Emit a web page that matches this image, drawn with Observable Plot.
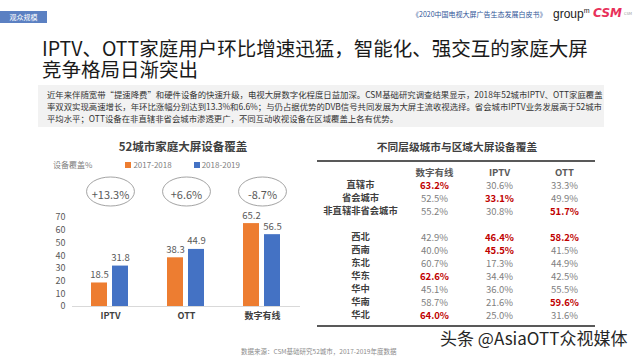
<!DOCTYPE html>
<html><head><meta charset="utf-8">
<script src="https://cdn.jsdelivr.net/npm/d3@7"></script>
<script src="https://cdn.jsdelivr.net/npm/@observablehq/plot@0.6"></script>
<style>
html,body{margin:0;padding:0;background:#fff;}
#page{position:relative;width:640px;height:360px;overflow:hidden;background:#fff;font-family:"Noto Sans CJK SC","Noto Sans",sans-serif;}
.abs{position:absolute;white-space:nowrap;}
#tag{left:0;top:11px;width:47px;height:12px;background:#5b80c2;color:#fff;font-size:7px;line-height:12px;text-align:center;}
#book{left:412px;top:10px;font-size:7px;line-height:9px;color:#2f5597;}
#groupm{left:553px;top:4px;font-size:12px;line-height:14px;color:#222;font-family:"Liberation Sans",sans-serif;}
#groupm sup{font-size:7px;color:#222;}
#csm{left:593px;top:6px;font-size:12px;line-height:14px;color:#e8305a;font-weight:bold;font-style:italic;font-family:"DejaVu Sans",sans-serif;}
#csmsub{left:624px;top:11px;font-size:4px;line-height:5px;color:#999;}
#title{left:42px;top:37px;font-size:19.5px;line-height:21px;color:#1a1a1a;}
#para{left:38px;top:85px;width:566px;height:42px;background:#f2f2f2;}
#ptext{left:47px;top:88px;font-size:8.4px;line-height:12px;color:#333;}
#btitle{left:0;width:366px;top:138px;text-align:center;font-size:11.5px;font-weight:bold;color:#404040;}
#legend{left:53px;top:159px;font-size:8px;color:#7f7f7f;}
#legend span.sw{display:inline-block;width:6px;height:6px;margin-right:2px;vertical-align:0px;}
#ttitle{left:310px;width:294px;top:139px;text-align:center;font-size:10.7px;font-weight:bold;color:#404040;}
.rule{left:317px;width:278px;height:1.5px;background:#595959;}
#source{left:241px;top:346px;font-size:6.5px;color:#8c8c8c;}
#wm{left:440px;top:325px;font-size:17px;color:#262626;}
svg{overflow:visible;}
</style>
</head><body>
<div id="page">
  <div class="abs" id="tag">观众规模</div>
  <div class="abs" id="book">《2020中国电视大屏广告生态发展白皮书》</div>
  <div class="abs" id="groupm">group<sup>m</sup></div>
  <div class="abs" id="csm">CSM</div>
  <div class="abs" id="csmsub">CSM</div>
  <div class="abs" id="title">IPTV、OTT家庭用户环比增速迅猛，智能化、强交互的家庭大屏<br>竞争格局日渐突出</div>
  <div class="abs" id="para"></div>
  <div class="abs" id="ptext">近年来伴随宽带“提速降费”和硬件设备的快速升级，电视大屏数字化程度日益加深。CSM基础研究调查结果显示，2018年52城市IPTV、OTT家庭覆盖<br>率双双实现高速增长，年环比涨幅分别达到13.3%和6.6%；与仍占据优势的DVB信号共同发展为大屏主流收视选择。省会城市IPTV业务发展高于52城市<br>平均水平；OTT设备在非直辖非省会城市渗透更广，不同互动收视设备在区域覆盖上各有优势。</div>
  <div class="abs" id="btitle">52城市家庭大屏设备覆盖</div>
  <div class="abs" id="legend"></div>
  <div class="abs" id="bars" style="left:0;top:130px"></div>
  <div class="abs" id="ttitle">不同层级城市与区域大屏设备覆盖</div>
  <div class="abs rule" style="top:160px"></div>
  <div class="abs" id="table" style="left:310px;top:160px"></div>
  <div class="abs rule" style="top:325px"></div>
  <div class="abs" id="source">数据来源：CSM基础研究52城市，2017-2019年度数据</div>
  <div class="abs" id="wm">头条 @AsiaOTT众视媒体</div>
</div>
<script>
// ---------- data ----------
const categories = ["IPTV", "OTT", "数字有线"];
const periods = ["2017-2018", "2018-2019"];
const periodColors = ["#ed7d31", "#4472c4"];
const values2017_2018 = [18.5, 38.3, 65.2];
const values2018_2019 = [31.8, 44.9, 56.5];
const growthLabels = ["+13.3%", "+6.6%", "-8.7%"];
const yTicks = [0, 10, 20, 30, 40, 50, 60, 70];
const yAxisLabel = "设备覆盖%";

const tableColumns = ["数字有线", "IPTV", "OTT"];
const tierRows = ["直辖市", "省会城市", "非直辖非省会城市"];
const regionRows = ["西北", "西南", "东北", "华东", "华中", "华南", "华北"];
const cableValues = [63.2, 52.5, 55.2, 42.9, 40.0, 60.7, 62.6, 45.1, 58.7, 64.0];
const iptvValues  = [30.6, 33.1, 30.8, 46.4, 45.5, 17.3, 34.4, 36.0, 21.6, 25.0];
const ottValues   = [33.3, 49.9, 51.7, 58.2, 41.5, 44.9, 42.5, 55.5, 59.6, 31.6];
const highlightedCells = [
  ["直辖市", "数字有线"], ["省会城市", "IPTV"], ["非直辖非省会城市", "OTT"],
  ["西北", "IPTV"], ["西北", "OTT"], ["西南", "IPTV"], ["华东", "数字有线"],
  ["华南", "OTT"], ["华北", "数字有线"]
];

// ---------- legend ----------
const legend = document.getElementById("legend");
legend.innerHTML = `<span style="margin-right:33px">${yAxisLabel}</span>` +
  periods.map((p, i) => `<span style="margin-right:22px"><span class="sw" style="background:${periodColors[i]}"></span>${p}</span>`).join("");

// ---------- bar chart ----------
const barsData = categories.flatMap((c, i) => [
  {category: c, period: periods[0], value: values2017_2018[i]},
  {category: c, period: periods[1], value: values2018_2019[i]}
]);
const growthData = categories.map((c, i) => ({category: c, label: growthLabels[i]}));

const ellipseSymbol = {
  draw(ctx, size) {
    const r = Math.sqrt(size / Math.PI), rx = r * 1.65, ry = r, k = 0.5523;
    ctx.moveTo(rx, 0);
    ctx.bezierCurveTo(rx, ry * k, rx * k, ry, 0, ry);
    ctx.bezierCurveTo(-rx * k, ry, -rx, ry * k, -rx, 0);
    ctx.bezierCurveTo(-rx, -ry * k, -rx * k, -ry, 0, -ry);
    ctx.bezierCurveTo(rx * k, -ry, rx, -ry * k, rx, 0);
    ctx.closePath();
  }
};

const barPlot = Plot.plot({
  width: 310, height: 200,
  marginLeft: 72, marginRight: 10, marginTop: 87, marginBottom: 24,
  style: {fontFamily: "'Noto Sans CJK SC', sans-serif", color: "#595959", background: "transparent", overflow: "visible"},
  fx: {domain: categories, padding: 0, label: null},
  x: {domain: periods, paddingInner: 0.227, paddingOuter: 0.841, axis: null},
  y: {domain: [0, 70], label: null},
  color: {domain: periods, range: periodColors},
  marks: [
    Plot.axisY({ticks: yTicks, tickSize: 0, tickPadding: 7, label: null, fontSize: 9}),
    Plot.axisFx({anchor: "bottom", tickSize: 0, tickPadding: 6, label: null, fontSize: 9, fontWeight: "bold", fill: "#404040"}),
    Plot.ruleY([0], {stroke: "#d9d9d9", strokeWidth: 1}),
    Plot.barY(barsData, {fx: "category", x: "period", y: "value", fill: "period"}),
    Plot.text(barsData, {fx: "category", x: "period", y: "value", text: d => d.value.toFixed(1), dy: -8, fontSize: 9.5, fill: "#595959"}),
    Plot.dot(growthData, {fx: "category", frameAnchor: "top", dy: -26, r: 14.5, symbol: ellipseSymbol, stroke: "#8c8c8c", strokeWidth: 0.8, fill: "none"}),
    Plot.text(growthData, {fx: "category", frameAnchor: "top", dy: -26, text: "label", fontSize: 11, fill: "#595959"})
  ]
});
document.getElementById("bars").appendChild(barPlot);

// ---------- table ----------
const allRows = [...tierRows, ...regionRows];
const isHl = (r, c) => highlightedCells.some(([hr, hc]) => hr === r && hc === c);
const columnValues = [cableValues, iptvValues, ottValues];
const cells = allRows.flatMap((r, i) => tableColumns.map((c, j) => ({row: r, column: c, value: columnValues[j][i], hl: isHl(r, c)})));
const headerKey = "__header", gapKey = "__gap";

const tablePlot = Plot.plot({
  width: 320, height: 170,
  marginLeft: 123, marginRight: 66, marginTop: 8, marginBottom: 12,
  style: {fontFamily: "'Noto Sans CJK SC', sans-serif", background: "transparent", overflow: "visible"},
  x: {type: "point", domain: tableColumns, padding: 0, axis: null},
  y: {type: "point", domain: [headerKey, ...tierRows, gapKey, ...regionRows], padding: 0, axis: null},
  marks: [
    Plot.text(tableColumns, {x: d => d, y: () => headerKey, text: d => d, fontSize: 9.5, fontWeight: "bold", fill: "#595959"}),
    Plot.text(allRows, {y: d => d, text: d => d, frameAnchor: "left", dx: -73, textAnchor: "middle", fontSize: 9.3, fontWeight: "bold", fill: "#404040"}),
    Plot.text(cells.filter(d => !d.hl), {x: "column", y: "row", text: d => d.value.toFixed(1) + "%", fontSize: 9.5, fill: "#7f7f7f"}),
    Plot.text(cells.filter(d => d.hl), {x: "column", y: "row", text: d => d.value.toFixed(1) + "%", fontSize: 9.5, fontWeight: "bold", fill: "#c00000"})
  ]
});
document.getElementById("table").appendChild(tablePlot);
</script>
</body></html>
